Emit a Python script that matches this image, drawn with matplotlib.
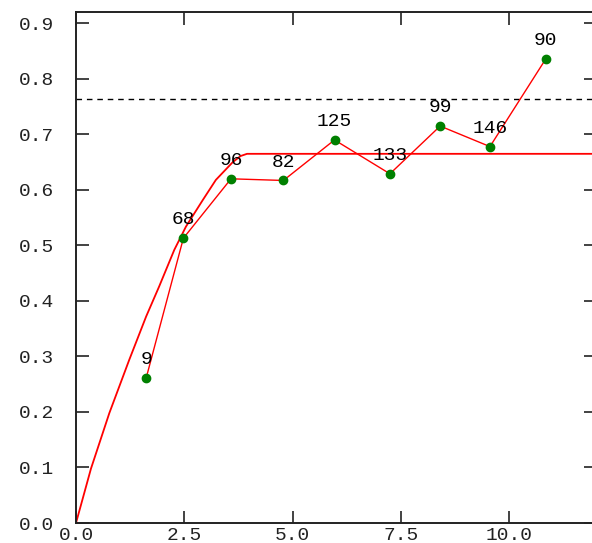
# Recreate the saturation-curve chart with labelled sample points
import matplotlib
matplotlib.use('Agg')
import matplotlib.pyplot as plt

# Observed points (x, y) and their labels
point_x = [1.62, 2.48, 3.58, 4.79, 5.97, 7.25, 8.41, 9.56, 10.85]
point_y = [0.261, 0.513, 0.620, 0.617, 0.690, 0.629, 0.715, 0.678, 0.836]
point_labels = ['9', '68', '96', '82', '125', '133', '99', '146', '90']

# Fitted curve: rises from 0 then flat
curve_x = [0.0, 0.346, 0.77, 1.23, 1.62, 1.92, 2.27, 2.54, 2.93, 3.23, 3.62, 3.80, 3.95, 12.0]
curve_y = [0.0, 0.098, 0.198, 0.294, 0.372, 0.426, 0.492, 0.534, 0.582, 0.618, 0.650, 0.661, 0.665, 0.665]

# Dashed reference level
ref_level = 0.763

x_ticks = [0.0, 2.5, 5.0, 7.5, 10.0]
y_ticks = [0.0, 0.1, 0.2, 0.3, 0.4, 0.5, 0.6, 0.7, 0.8, 0.9]

mono = 'Liberation Mono'

fig = plt.figure(figsize=(5.92, 5.43), dpi=100)
ax = fig.add_axes([76 / 592, 20 / 543, 519.6 / 592, 511.3 / 543])

ax.plot(curve_x, curve_y, color='red', lw=1.3, zorder=2)
ax.axhline(ref_level, color='black', lw=1.0, ls=(0, (4, 3.5)), zorder=1)
ax.plot(point_x, point_y, color='red', lw=1.0, marker='o', markersize=6,
        markerfacecolor='green', markeredgecolor='green', zorder=3)

for x, y, lab in zip(point_x, point_y, point_labels):
    ax.annotate(lab, (x, y), xytext=(0, 7), textcoords='offset points',
                ha='center', va='bottom', fontsize=14, family=mono, color='black')

ax.set_xlim(0, 12)
ax.set_ylim(0, 0.921)
ax.set_xticks(x_ticks)
ax.set_xticklabels(['%.1f' % v for v in x_ticks])
ax.set_yticks(y_ticks)
ax.set_yticklabels(['%.1f' % v for v in y_ticks])

ax.tick_params(direction='in', length=9, width=1.2, top=True, right=True,
               labelsize=14, colors='#222222')
ax.tick_params(axis='x', pad=3)
ax.tick_params(axis='y', pad=16)
for lab in ax.get_xticklabels() + ax.get_yticklabels():
    lab.set_family(mono)
for s in ax.spines.values():
    s.set_linewidth(1.4)
    s.set_color('#222222')
ax.spines['right'].set_visible(False)

fig.savefig('out.png', dpi=100)
